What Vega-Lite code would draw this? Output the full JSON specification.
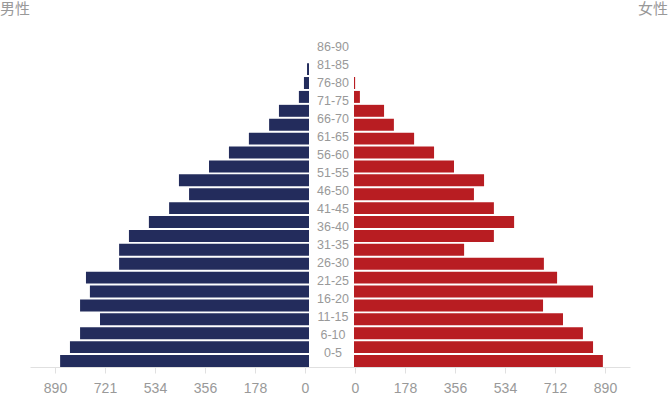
{
  "$schema": "https://vega.github.io/schema/vega-lite/v6.json",
  "padding": {"top": 2, "left": 0, "right": 0, "bottom": 0},
  "autosize": {"type": "pad"},
  "background": "white",
  "bounds": "flush",
  "spacing": 0,
  "config": {"view": {"stroke": null}, "font": "Liberation Sans"},
  "datasets": {
    "bars": [
      {"row": 1, "male": 7, "female": 0},
      {"row": 2, "male": 18, "female": 4},
      {"row": 3, "male": 36, "female": 21},
      {"row": 4, "male": 107, "female": 107},
      {"row": 5, "male": 142, "female": 142},
      {"row": 6, "male": 214, "female": 214},
      {"row": 7, "male": 285, "female": 285},
      {"row": 8, "male": 356, "female": 356},
      {"row": 9, "male": 463, "female": 463},
      {"row": 10, "male": 427, "female": 427},
      {"row": 11, "male": 498, "female": 498},
      {"row": 12, "male": 570, "female": 570},
      {"row": 13, "male": 641, "female": 498},
      {"row": 14, "male": 676, "female": 392},
      {"row": 15, "male": 676, "female": 676},
      {"row": 16, "male": 794, "female": 723},
      {"row": 17, "male": 780, "female": 851},
      {"row": 18, "male": 815, "female": 673},
      {"row": 19, "male": 744, "female": 744},
      {"row": 20, "male": 815, "female": 815},
      {"row": 21, "male": 851, "female": 851},
      {"row": 22, "male": 886, "female": 886}
    ],
    "labels": [
      {"age": "86-90"}, {"age": "81-85"}, {"age": "76-80"}, {"age": "71-75"},
      {"age": "66-70"}, {"age": "61-65"}, {"age": "56-60"}, {"age": "51-55"},
      {"age": "46-50"}, {"age": "41-45"}, {"age": "36-40"}, {"age": "31-35"},
      {"age": "26-30"}, {"age": "21-25"}, {"age": "16-20"}, {"age": "11-15"},
      {"age": "6-10"}, {"age": "0-5"}
    ]
  },
  "hconcat": [
    {
      "width": 275,
      "height": 330,
      "data": {"name": "bars"},
      "title": {"text": "男性", "anchor": "start", "frame": "group", "dx": -30, "offset": 20, "fontSize": 15, "font": "Noto Sans CJK SC", "fontWeight": "normal", "color": "#999999"},
      "mark": {"type": "bar", "color": "#232c5c", "xOffset": 4, "x2Offset": 4},
      "encoding": {
        "y": {"field": "row", "type": "ordinal", "axis": null, "scale": {"paddingInner": 0.14, "paddingOuter": 0.94, "align": 1}},
        "x": {
          "field": "male", "type": "quantitative",
          "scale": {"domain": [0, 979], "reverse": true, "nice": false},
          "axis": {"values": [0, 178, 356, 534, 712, 890], "format": "d", "labelExpr": "datum.value == 712 ? '721' : datum.label", "title": null, "grid": false, "domainColor": "#e0e0e0", "tickColor": "#e0e0e0", "tickSize": 6, "labelColor": "#999999", "labelFontSize": 14, "labelFont": "Liberation Sans", "labelPadding": 8, "labelFlush": false, "labelOverlap": false}
        }
      }
    },
    {
      "width": 50,
      "height": 330,
      "data": {"name": "labels"},
      "mark": {"type": "text", "fontSize": 12.5, "font": "Liberation Sans", "color": "#999999", "dx": 3, "baseline": "middle"},
      "encoding": {
        "x": {"datum": 0, "type": "quantitative", "scale": {"domain": [-1, 1], "nice": false}, "axis": {"title": null, "grid": false, "ticks": false, "labels": false, "domainColor": "#e0e0e0"}},
        "y": {"field": "age", "type": "ordinal", "axis": null, "sort": ["86-90", "81-85", "76-80", "71-75", "66-70", "61-65", "56-60", "51-55", "46-50", "41-45", "36-40", "31-35", "26-30", "21-25", "16-20", "11-15", "6-10", "0-5"], "scale": {"type": "band", "paddingInner": 0, "paddingOuter": 0.1667, "align": 0.1}},
        "text": {"field": "age", "type": "nominal"}
      }
    },
    {
      "width": 275,
      "height": 330,
      "data": {"name": "bars"},
      "title": {"text": "女性", "anchor": "end", "frame": "group", "dx": 38, "offset": 20, "fontSize": 15, "font": "Noto Sans CJK SC", "fontWeight": "normal", "color": "#999999"},
      "mark": {"type": "bar", "color": "#b81d22", "xOffset": -1, "x2Offset": -1},
      "encoding": {
        "y": {"field": "row", "type": "ordinal", "axis": null, "scale": {"paddingInner": 0.14, "paddingOuter": 0.94, "align": 1}},
        "x": {
          "field": "female", "type": "quantitative",
          "scale": {"domain": [0, 979], "nice": false},
          "axis": {"values": [0, 178, 356, 534, 712, 890], "format": "d", "title": null, "grid": false, "domainColor": "#e0e0e0", "tickColor": "#e0e0e0", "tickSize": 6, "labelColor": "#999999", "labelFontSize": 14, "labelFont": "Liberation Sans", "labelPadding": 8, "labelFlush": false, "labelOverlap": false}
        }
      }
    }
  ]
}
